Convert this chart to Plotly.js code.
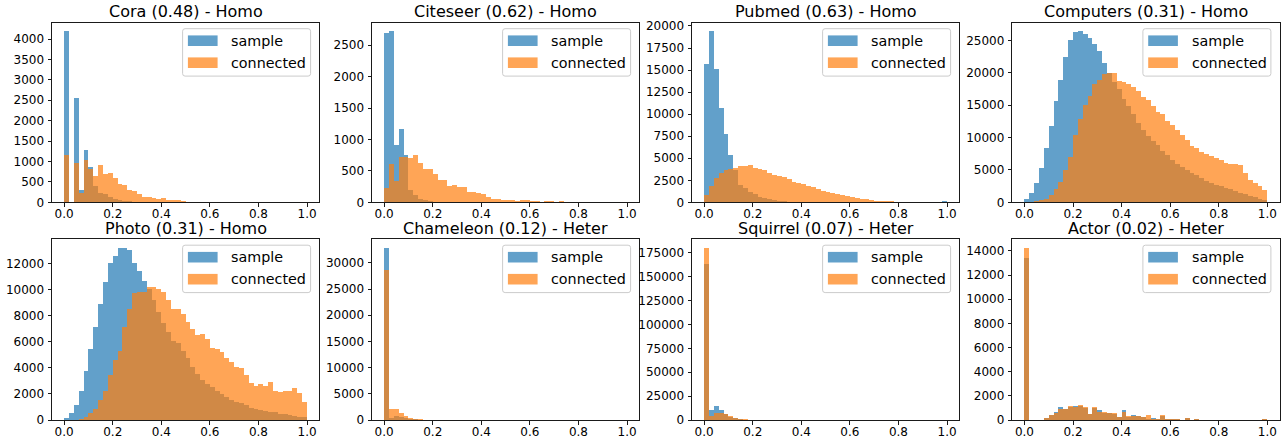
<!DOCTYPE html>
<html><head><meta charset="utf-8">
<script src="https://cdn.plot.ly/plotly-3.0.1.min.js"></script>
<style>html,body{margin:0;padding:0;background:#fff;}#chart{width:1286px;height:440px;}</style>
</head><body><div id="chart"></div><script>
// Histogram bin centers (50 bins of width 0.02 over [0,1])
const binCenters = [0.01,0.03,0.05,0.07,0.09,0.11,0.13,0.15,0.17,0.19,
  0.21,0.23,0.25,0.27,0.29,0.31,0.33,0.35,0.37,0.39,
  0.41,0.43,0.45,0.47,0.49,0.51,0.53,0.55,0.57,0.59,
  0.61,0.63,0.65,0.67,0.69,0.71,0.73,0.75,0.77,0.79,
  0.81,0.83,0.85,0.87,0.89,0.91,0.93,0.95,0.97,0.99];

const titles = ["Cora (0.48) - Homo","Citeseer (0.62) - Homo","Pubmed (0.63) - Homo","Computers (0.31) - Homo",
  "Photo (0.31) - Homo","Chameleon (0.12) - Heter","Squirrel (0.07) - Heter","Actor (0.02) - Heter"];
const seriesNames = ["sample","connected"];
const xTickVals = [0,0.2,0.4,0.6,0.8,1.0];
const xTickText = ["0.0","0.2","0.4","0.6","0.8","1.0"];
const yTickSteps = [500,500,2500,5000,2000,5000,25000,2000];

const coraSample = [4190,0,2555,300,1280,870,400,220,200,140,
  80,55,40,25,15,10,8,5,3,2,
  1,1,0,0,0,0,0,0,0,0,
  0,0,0,0,0,0,0,0,0,0,
  0,0,0,0,0,0,0,0,0,0];
const coraConnected = [1159,0,963,220,1037,808,645,922,694,726,
  600,460,420,300,270,200,140,140,100,85,
  100,60,50,60,30,15,10,10,8,6,
  5,5,4,4,3,3,2,2,2,2,
  1,1,1,1,1,1,1,1,1,2];

const citeseerSample = [2690,2720,911,1160,752,196,116,53,37,20,
  10,8,5,4,3,2,2,1,1,1,
  0,0,0,0,0,0,0,0,0,0,
  0,0,0,0,0,0,0,0,0,0,
  0,0,0,0,0,0,0,0,0,0];
const citeseerConnected = [233,609,339,720,720,710,752,625,524,524,
  455,350,350,265,275,244,238,159,164,154,
  127,90,53,53,37,32,37,21,32,37,
  21,16,5,21,21,10,21,5,5,5,
  3,3,3,2,2,2,2,2,2,5];

const pubmedSample = [15700,19400,15070,10700,7720,5390,3700,1960,1580,1200,
  900,640,450,340,260,190,110,80,60,40,
  30,20,15,10,8,6,5,4,3,3,
  2,2,2,1,1,1,1,1,1,1,
  1,1,1,1,1,1,1,80,80,120];
const pubmedConnected = [830,1900,2790,3280,3650,3840,3920,4100,4140,4220,
  3920,3730,3620,3350,3090,2975,2825,2600,2335,2220,
  2070,1880,1695,1500,1320,1200,1090,980,790,680,
  600,490,380,340,230,190,150,150,150,75,
  50,40,30,25,20,15,10,10,10,10];

const computersSample = [500,1500,3000,5300,8400,11800,15600,18900,22400,25000,
  26300,26400,26000,25300,24500,23300,21500,20000,18600,17500,
  16000,14800,13600,12300,11200,10300,9500,8800,8000,7300,
  6600,6000,5500,5000,4600,4200,3700,3300,3000,2700,
  2500,2200,2000,1800,1500,1300,1000,800,500,300];
const computersConnected = [30,80,150,300,600,1100,2000,3200,5000,7000,
  10400,12800,15000,16400,18200,18900,19800,20000,19900,18800,
  18500,18300,17800,17200,16300,15800,14800,14000,13700,12600,
  11900,11100,10400,9700,8700,8400,7800,7400,7100,6900,
  6500,6100,5900,5850,5750,4500,3500,3000,2500,1900];

const photoSample = [130,510,1150,2220,3750,5440,7150,8880,10600,12000,
  12560,13150,13200,13070,12050,11440,10650,10080,9190,8300,
  7400,6770,6080,5870,5280,4720,4080,3500,3060,2760,
  2550,2250,2000,1740,1530,1400,1280,1150,950,820,
  770,720,640,590,460,430,380,310,230,200];
const photoConnected = [0,0,0,80,250,510,820,1530,2220,3450,
  4600,5310,7150,8480,9750,9830,9780,10210,10210,10080,
  9830,9190,8480,8480,8090,7530,6940,6510,6560,6200,
  5540,5440,5230,4720,4420,4080,3960,3450,2810,2630,
  2730,2630,2940,2220,2170,2220,2220,2480,2040,1400];

const chameleonSample = [32860,450,760,640,380,190,130,80,40,20,
  10,5,0,0,0,0,0,0,0,0,
  0,0,0,0,0,0,0,0,0,0,
  0,0,0,0,0,0,0,0,0,0,
  0,0,0,0,0,0,0,0,0,0];
const chameleonConnected = [28600,2100,2100,1270,760,320,190,130,60,30,
  20,10,5,0,0,0,0,0,0,0,
  0,0,0,0,0,0,0,0,0,0,
  0,0,0,0,0,0,0,0,0,0,
  0,0,0,0,0,0,0,0,0,0];

const squirrelSample = [163800,10460,14990,10460,6270,3490,1740,700,350,200,
  100,50,0,0,0,0,0,0,0,0,
  0,0,0,0,0,0,0,0,0,0,
  0,0,0,0,0,0,0,0,0,0,
  0,0,0,0,0,0,0,0,0,0];
const squirrelConnected = [180300,4180,6970,6970,5930,4180,2090,1050,1050,300,
  150,80,0,0,0,0,0,0,0,0,
  0,0,0,0,0,0,0,0,0,0,
  0,0,0,0,0,0,0,0,0,0,
  0,0,0,0,0,0,0,0,0,0];

const actorSample = [13450,0,0,0,140,380,640,1050,880,1100,
  1160,1180,960,480,1000,820,620,600,500,280,
  830,280,410,320,250,100,170,80,330,80,
  80,70,10,150,10,60,10,10,5,5,
  5,5,5,5,5,5,5,5,5,60];
const actorConnected = [14260,0,0,0,140,400,550,880,880,1160,
  1100,1240,1050,500,1070,690,660,550,610,220,
  690,360,330,330,280,440,60,60,390,80,
  80,80,10,170,10,80,10,10,5,5,
  5,5,5,5,5,5,5,5,5,80];

const sampleSeries = [coraSample,citeseerSample,pubmedSample,computersSample,photoSample,chameleonSample,squirrelSample,actorSample];
const connectedSeries = [coraConnected,citeseerConnected,pubmedConnected,computersConnected,photoConnected,chameleonConnected,squirrelConnected,actorConnected];

// ---- layout geometry (pixels) ----
const W = 1286, H = 440;
const colLeft = [52, 372, 692, 1012.3];
const plotW = 267.2;
const rowTop = [22.7, 239.2];
const rowBot = [202.4, 420];
const px = x => x / W;
const py = y => 1 - y / H;
const BLUE = 'rgba(31,119,180,0.7)';
const ORANGE = 'rgba(255,127,14,0.7)';
const FONT = 'DejaVu Sans, Liberation Sans, sans-serif';

const traces = [];
const layout = {
  width: W, height: H,
  margin: {l:0, r:0, t:0, b:0},
  paper_bgcolor: '#fff', plot_bgcolor: '#fff',
  barmode: 'overlay', bargap: 0,
  showlegend: false,
  font: {family: FONT, color: '#000'},
  shapes: [], annotations: []
};

function roundRect(x0, y0, x1, y1, r) {
  const P = (x, y) => px(x) + ',' + py(y);
  return 'M' + P(x0 + r, y0) + ' L' + P(x1 - r, y0) + ' Q' + P(x1, y0) + ' ' + P(x1, y0 + r) +
    ' L' + P(x1, y1 - r) + ' Q' + P(x1, y1) + ' ' + P(x1 - r, y1) +
    ' L' + P(x0 + r, y1) + ' Q' + P(x0, y1) + ' ' + P(x0, y1 - r) +
    ' L' + P(x0, y0 + r) + ' Q' + P(x0, y0) + ' ' + P(x0 + r, y0) + ' Z';
}

for (let k = 0; k < 8; k++) {
  const row = Math.floor(k / 4), col = k % 4;
  const sfx = k === 0 ? '' : String(k + 1);
  const xa = 'x' + sfx, ya = 'y' + sfx;
  const left = colLeft[col], right = colLeft[col] + plotW;
  const top = rowTop[row], bot = rowBot[row];
  const s = sampleSeries[k], c = connectedSeries[k];
  const ymax = Math.max(Math.max(...s), Math.max(...c)) * 1.05;

  traces.push({type: 'bar', x: binCenters, y: s, width: 0.02, xaxis: xa, yaxis: ya, name: seriesNames[0],
    marker: {color: BLUE, line: {width: 0}}, hoverinfo: 'x+y+name'});
  traces.push({type: 'bar', x: binCenters, y: c, width: 0.02, xaxis: xa, yaxis: ya, name: seriesNames[1],
    marker: {color: ORANGE, line: {width: 0}}, hoverinfo: 'x+y+name'});

  const common = {
    showline: true, mirror: true, linecolor: '#1a1a1a', linewidth: 1,
    ticks: 'outside', ticklen: 3.5, tickwidth: 1, tickcolor: '#1a1a1a',
    showgrid: false, zeroline: false,
    tickfont: {family: FONT, size: 12, color: '#000'}
  };
  layout['xaxis' + sfx] = Object.assign({}, common, {
    domain: [px(left), px(right)], anchor: ya,
    range: [-0.05, 1.05], tickmode: 'array', tickvals: xTickVals, ticktext: xTickText,
    ticklabelstandoff: -3
  });
  layout['yaxis' + sfx] = Object.assign({}, common, {
    domain: [py(bot), py(top)], anchor: xa,
    range: [0, ymax], tickmode: 'linear', tick0: 0, dtick: yTickSteps[k],
    tickformat: 'd', separatethousands: false, exponentformat: 'none',
    ticklabelstandoff: 1
  });

  // title
  layout.annotations.push({
    xref: 'paper', yref: 'paper', x: px((left + right) / 2), y: py(top - 11),
    xanchor: 'center', yanchor: 'middle', showarrow: false,
    text: titles[k], font: {family: FONT, size: 16, color: '#000'}
  });

  // legend box
  const lx0 = right - 136.6, lx1 = right - 8.6, ly0 = top + 6, ly1 = top + 53.4;
  layout.shapes.push({type: 'path', xref: 'paper', yref: 'paper', layer: 'above',
    path: roundRect(lx0, ly0, lx1, ly1, 2.5),
    fillcolor: 'rgba(255,255,255,0.8)', line: {color: '#cccccc', width: 1}});
  const patchY = [top + 18, top + 40];
  const patchCol = [BLUE, ORANGE];
  for (let j = 0; j < 2; j++) {
    layout.shapes.push({type: 'rect', xref: 'paper', yref: 'paper', layer: 'above',
      x0: px(right - 131.3), x1: px(right - 101.6),
      y0: py(patchY[j] - 5.3), y1: py(patchY[j] + 5.3),
      fillcolor: patchCol[j], line: {width: 0}});
    layout.annotations.push({
      xref: 'paper', yref: 'paper', x: px(right - 90), y: py(patchY[j]),
      xanchor: 'left', yanchor: 'middle', showarrow: false,
      text: seriesNames[j], font: {family: FONT, size: 14.3, color: '#000'}
    });
  }
}

Plotly.newPlot('chart', traces, layout, {staticPlot: true, displayModeBar: false});
</script></body></html>
